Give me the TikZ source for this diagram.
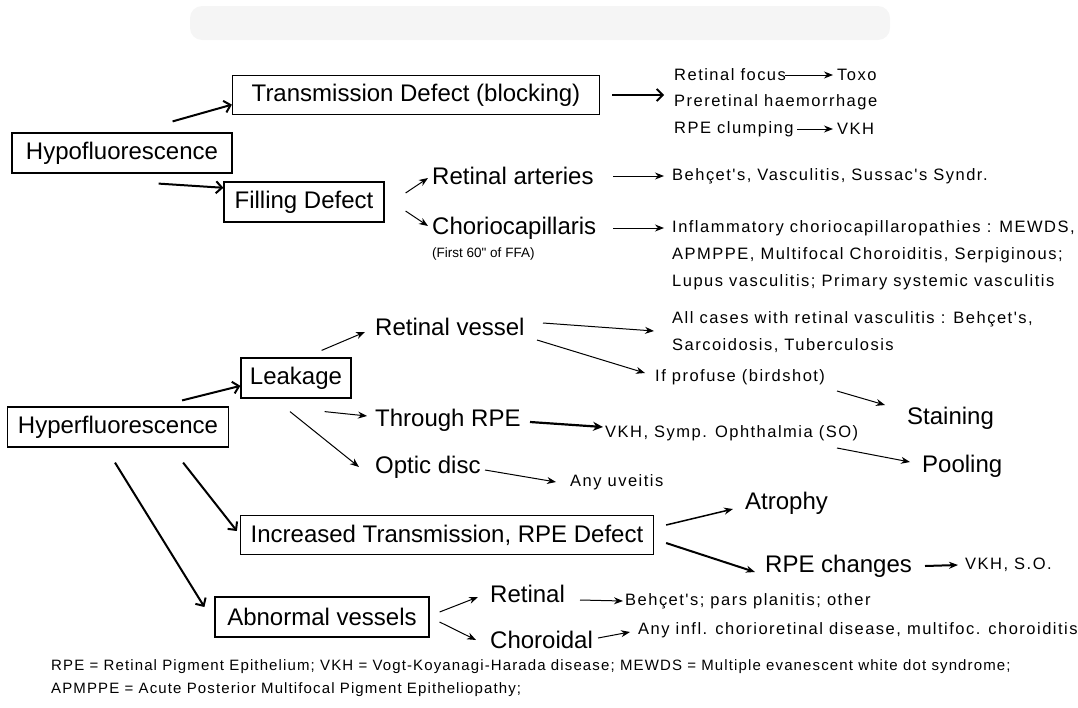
\documentclass[tikz,border=0pt]{standalone}
\usepackage{fontspec}
\setmainfont{Liberation Sans}
\newfontfamily\notefont[LetterSpace=9]{Liberation Sans}
\newfontfamily\footfont[LetterSpace=7.5]{Liberation Sans}
\usetikzlibrary{arrows.meta,calc}
\tikzset{
  box/.style={draw, line width=1.2pt, font=\fontsize{24}{27}\selectfont, minimum height=40pt, inner xsep=6pt},
  lab/.style={font=\fontsize{24}{27}\selectfont, anchor=west, inner sep=0pt},
  note/.style={font=\notefont\fontsize{16.5}{19}\selectfont, anchor=west, inner sep=0pt},
  foot/.style={font=\footfont\fontsize{15}{18}\selectfont, anchor=west, inner sep=0pt},
  arr/.style={line width=1pt, -{Stealth[length=9pt,width=7pt]}},
  fatarr/.style={line width=2.2pt, -{Stealth[length=10pt,width=9pt]}},
  barb/.style={line width=2pt, -{Straight Barb[length=6pt,width=12pt]}},
}
\begin{document}
\begin{tikzpicture}[x=1pt,y=-1pt]
\useasboundingbox (0,0) rectangle (1078,707);
\fill[black!4, rounded corners=12pt] (190,6) rectangle (890,40);
\begin{scope}
\node[box, minimum width=220pt] (hypo) at (122,153) {Hypofluorescence};
\node[box, minimum width=367pt, minimum height=39pt] (trans) at (416,95) {Transmission Defect (blocking)};
\node[box, minimum width=160pt] (fill) at (304,202) {Filling Defect};
\node[box, minimum width=221pt] (hyper) at (118,427) {Hyperfluorescence};
\node[box, minimum width=110pt] (leak) at (296,378) {Leakage};
\node[box, minimum width=413pt, minimum height=39pt] (incr) at (447,535) {Increased Transmission, RPE Defect};
\node[box, minimum width=214pt] (abn) at (322,617) {Abnormal vessels};
\node[lab] (rart) at (432,176) {Retinal arteries};
\node[lab] (chor) at (432,228) {Choriocapillaris};
\node[note, font=\fontsize{13.5}{16}\selectfont] (first) at (432,254) {(First 60\textquotedbl{} of FFA)};
\node[lab] (rves) at (375,327) {Retinal vessel};
\node[lab] (trpe) at (375,420) {Through RPE};
\node[lab] (optic) at (375,467) {Optic disc};
\node[lab] (stain) at (907,418) {Staining};
\node[lab] (pool) at (922,466) {Pooling};
\node[lab] (atro) at (745,503) {Atrophy};
\node[lab] (rpech) at (765,566) {RPE changes};
\node[lab] (retin) at (490,594) {Retinal};
\node[lab] (choro) at (490,640) {Choroidal};
\end{scope}
\begin{scope}
\node[note] (focus) at (674,75) {Retinal focus};
\node[note] (toxo) at (837,75) {Toxo};
\node[note] (prer) at (674,102) {Preretinal haemorrhage};
\node[note] (clump) at (674,129) {RPE clumping};
\node[note] (vkha) at (837,129) {VKH};
\node[note] (behca) at (672,176) {Behçet's, Vasculitis, Sussac's Syndr.};
\node[note] (infla) at (672,228) {Inflammatory choriocapillaropathies : MEWDS,};
\node[note] (inflb) at (672,255) {APMPPE, Multifocal Choroiditis, Serpiginous;};
\node[note] (inflc) at (672,282) {Lupus vasculitis; Primary systemic vasculitis};
\node[note] (alla) at (672,319) {All cases with retinal vasculitis : Behçet's,};
\node[note] (allb) at (672,346) {Sarcoidosis, Tuberculosis};
\node[note] (prof) at (655,377) {If profuse (birdshot)};
\node[note] (vkhso) at (605,433) {VKH, Symp. Ophthalmia (SO)};
\node[note] (anyuv) at (570,482) {Any uveitis};
\node[note] (vkhb) at (965,565) {VKH, S.O.};
\node[note] (behcb) at (625,601) {Behçet's; pars planitis; other};
\node[note] (anyinfl) at (638,630) {Any infl. chorioretinal disease, multifoc. choroiditis};
\node[foot] (foota) at (51,667) {RPE = Retinal Pigment Epithelium; VKH = Vogt-Koyanagi-Harada disease; MEWDS = Multiple evanescent white dot syndrome;};
\node[foot] (footb) at (51,690) {APMPPE = Acute Posterior Multifocal Pigment Epitheliopathy;};
\coordinate (tout) at ($(trans.east)+(64,0)$);
\end{scope}
\begin{scope}
\draw[barb] ($(hypo.north east)+(-60,-11)$) -- (trans.183);
\draw[barb] ($(hypo.south east)+(-74,10)$) -- (fill.170);
\draw[barb] ($(trans.east)+(12,0)$) -- (tout);
\draw[arr] ($(focus.west)+(111,0)$) -- ($(toxo.west)+(-4,0)$);
\draw[arr] ($(clump.west)+(123,0)$) -- ($(vkha.west)+(-4,0)$);
\draw[arr] ($(fill.east)+(21,-9)$) -- ($(rart.west)+(-4,2)$);
\draw[arr] ($(fill.east)+(21,9)$) -- ($(chor.west)+(-4,-2)$);
\draw[arr] ($(rart.west)+(181,0)$) -- ($(behca.west)+(-8,0)$);
\draw[arr] ($(chor.west)+(181,0)$) -- ($(infla.west)+(-8,0)$);
\draw[barb] ($(hyper.north east)+(-47,-6)$) -- (leak.188);
\draw[barb] ($(hyper.south east)+(-46,15)$) -- ($(incr.west)+(-3,-4)$);
\draw[barb] ($(hyper.south)+(-3,15)$) -- ($(abn.west)+(-10,-10)$);
\draw[arr] ($(leak.north east)+(-30,-7)$) -- ($(rves.west)+(-10,5)$);
\draw[arr] ($(leak.south east)+(-27,13)$) -- ($(trpe.west)+(-8,-4)$);
\draw[arr] ($(leak.south)+(-6,13)$) -- ($(optic.west)+(-16,0)$);
\draw[arr] ($(rves.west)+(168,-4)$) -- ($(alla.west)+(-18,12)$);
\draw[arr] ($(rves.west)+(162,13)$) -- ($(prof.west)+(-10,-4)$);
\draw[arr] ($(prof.west)+(182,14)$) -- ($(stain.west)+(-22,-13)$);
\draw[fatarr] ($(trpe.west)+(155,2)$) -- ($(vkhso.west)+(-2,-6)$);
\draw[arr] ($(vkhso.west)+(232,15)$) -- ($(pool.west)+(-12,-4)$);
\draw[arr] ($(optic.west)+(110,3)$) -- ($(anyuv.west)+(-14,0)$);
\draw[arr, line width=1.5pt] ($(incr.east)+(12,-10)$) -- ($(atro.west)+(-12,6)$);
\draw[arr, line width=2pt] ($(incr.east)+(12,8)$) -- ($(rpech.west)+(-10,6)$);
\draw[arr, line width=2pt] ($(rpech.west)+(160,0)$) -- ($(vkhb.west)+(-7,0)$);
\draw[arr] ($(abn.east)+(10,-5)$) -- ($(retin.west)+(-12,3)$);
\draw[arr] ($(abn.east)+(10,5)$) -- ($(choro.west)+(-14,0)$);
\draw[arr] ($(retin.west)+(90,6)$) -- ($(behcb.west)+(-2,0)$);
\draw[arr] ($(choro.west)+(108,-2)$) -- ($(anyinfl.west)+(-8,2)$);
\end{scope}
\end{tikzpicture}
\end{document}
